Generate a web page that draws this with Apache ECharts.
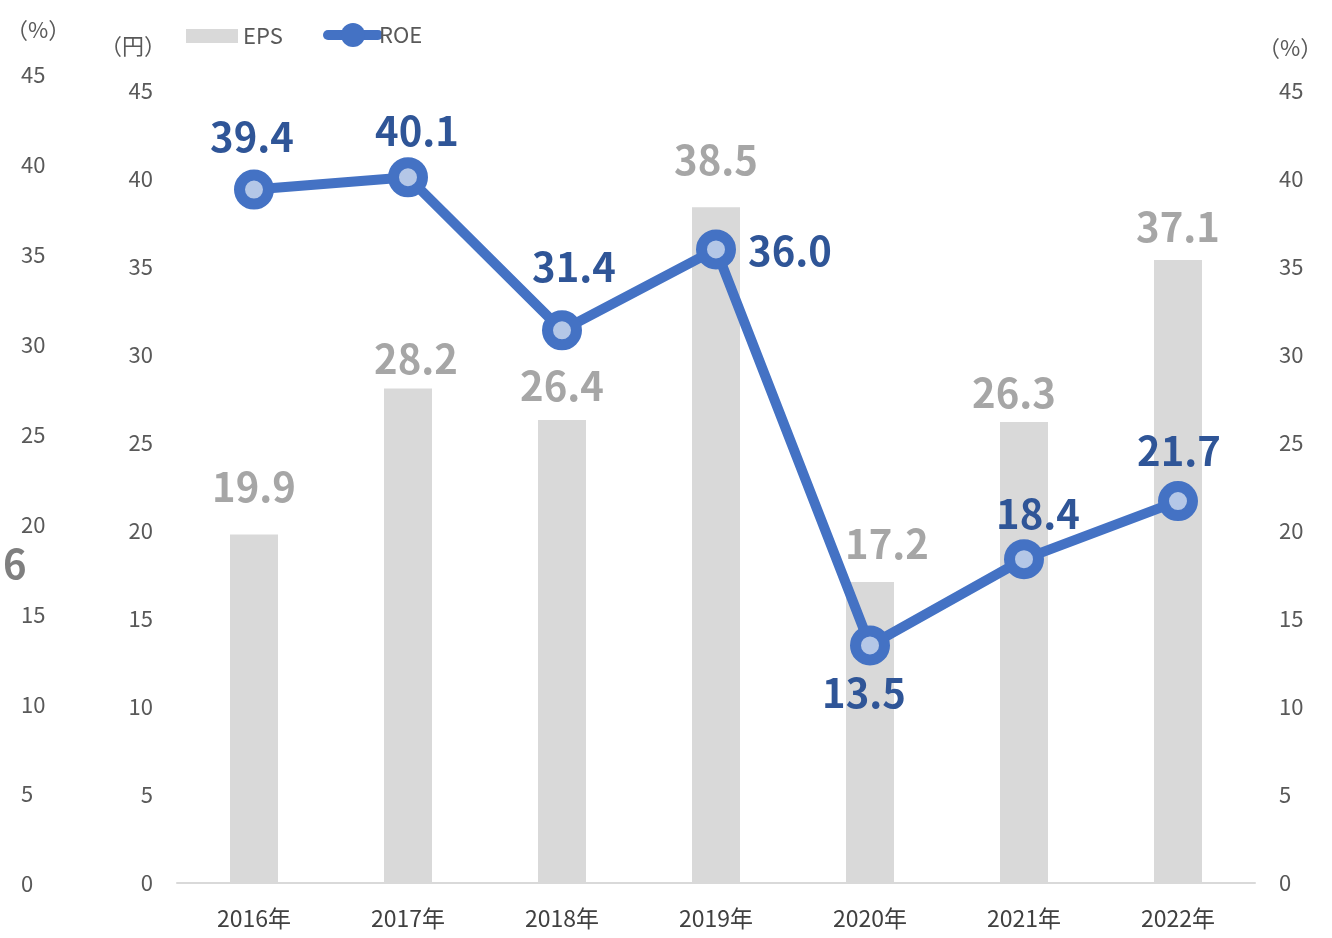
<!DOCTYPE html>
<html lang="ja">
<head>
    <meta charset="UTF-8">
    <title>EPS / ROE</title>
    <script src="https://cdn.jsdelivr.net/npm/echarts@6/dist/echarts.min.js"></script>
    <style>
        html, body { margin: 0; padding: 0; background: #fff; }
        #main { width: 1332px; height: 938px; }
    </style>
</head>
<body>
<div id="main"></div>
<script>
    // 年度
    const years = ['2016年', '2017年', '2018年', '2019年', '2020年', '2021年', '2022年'];
    // EPS（円）棒の高さ と 表示ラベル
    const epsBars = [19.8, 28.1, 26.3, 38.4, 17.1, 26.2, 35.4];
    const epsLabels = ['19.9', '28.2', '26.4', '38.5', '17.2', '26.3', '37.1'];
    // ROE（%）
    const roe = [39.4, 40.1, 31.4, 36.0, 13.5, 18.4, 21.7];
    const roeLabels = ['39.4', '40.1', '31.4', '36.0', '13.5', '18.4', '21.7'];

    // ラベル位置の微調整
    const epsLabelOffset = [[0, -28], [8, -10], [0, -14], [0, -27], [17, -18], [-10, -9], [0, -13]];
    const roeLabelOffset = [[-2, -53], [9, -46], [12, -64], [74, 1], [-6, 47], [14, -45], [1, -50]];

    const FONT = '"Noto Sans CJK JP", "Noto Sans", sans-serif';
    const tickStyle = { color: '#595959', fontSize: 22, fontFamily: FONT };
    const legendText = { color: '#595959', fontSize: 22, fontFamily: FONT };

    const chart = echarts.init(document.getElementById('main'));

    const option = {
        animation: false,
        textStyle: { fontFamily: FONT },
        legend: [
            {
                left: 186,
                top: 25,
                padding: 0,
                itemWidth: 52,
                itemHeight: 14,
                itemGap: 0,
                textStyle: legendText,
                data: [{ name: 'EPS', icon: 'rect', itemStyle: { color: '#D9D9D9' } }]
            },
            {
                left: 323,
                top: 23,
                padding: 0,
                itemWidth: 50,
                itemHeight: 30,
                textStyle: Object.assign({ padding: [0, 0, 0, -4] }, legendText),
                data: [{
                    name: 'ROE',
                    itemStyle: { color: '#4472C4', borderColor: '#4472C4', borderWidth: 0 },
                    lineStyle: { color: '#4472C4', width: 10, cap: 'round' }
                }]
            }
        ],
        grid: [
            { left: 177, right: 77, top: 91, bottom: 55, containLabel: false },
            { left: 60, right: 77, top: 75, bottom: 54, containLabel: false }
        ],
        xAxis: [
            {
                type: 'category',
                gridIndex: 0,
                data: years,
                axisTick: { show: false },
                axisLine: { lineStyle: { color: '#D9D9D9', width: 2 } },
                axisLabel: { color: '#404040', fontSize: 23, fontFamily: FONT, margin: 24 }
            },
            { type: 'category', gridIndex: 1, data: years, show: false }
        ],
        yAxis: [
            {
                type: 'value', gridIndex: 0, position: 'left',
                min: 0, max: 45, interval: 5,
                splitLine: { show: false },
                axisLine: { show: false }, axisTick: { show: false },
                axisLabel: Object.assign({ margin: 24 }, tickStyle)
            },
            {
                type: 'value', gridIndex: 0, position: 'right',
                min: 0, max: 45, interval: 5,
                splitLine: { show: false },
                axisLine: { show: false }, axisTick: { show: false },
                axisLabel: Object.assign({ margin: 24 }, tickStyle)
            },
            {
                type: 'value', gridIndex: 1, position: 'left',
                min: 0, max: 45, interval: 5,
                splitLine: { show: false },
                axisLine: { show: false }, axisTick: { show: false },
                axisLabel: Object.assign({ margin: 39, align: 'left' }, tickStyle)
            }
        ],
        graphic: [
            { type: 'text', left: 6, top: 19, style: { text: '（%）', font: '22px ' + FONT, fill: '#595959' } },
            { type: 'text', left: 100, top: 35, style: { text: '（円）', font: '22px ' + FONT, fill: '#595959' } },
            { type: 'text', left: 1258, top: 37, style: { text: '（%）', font: '22px ' + FONT, fill: '#595959' } },
            { type: 'text', left: 3, top: 544, style: { text: '6', font: 'bold 40px ' + FONT, fill: '#7F7F7F' } }
        ],
        series: [
            {
                name: 'EPS',
                type: 'bar',
                xAxisIndex: 0,
                yAxisIndex: 0,
                barWidth: 48,
                itemStyle: { color: '#D9D9D9' },
                data: epsBars.map((v, i) => ({
                    value: v,
                    label: {
                        show: true,
                        position: 'top',
                        distance: 0,
                        offset: epsLabelOffset[i],
                        formatter: epsLabels[i],
                        color: '#A6A6A6',
                        fontSize: 40,
                        fontWeight: 'bold',
                        fontFamily: FONT
                    }
                }))
            },
            {
                name: 'ROE',
                type: 'line',
                xAxisIndex: 0,
                yAxisIndex: 1,
                symbol: 'circle',
                symbolSize: 29,
                z: 5,
                lineStyle: { color: '#4472C4', width: 10 },
                itemStyle: { color: '#B4C7E7', borderColor: '#4472C4', borderWidth: 11 },
                data: roe.map((v, i) => ({
                    value: v,
                    label: {
                        show: true,
                        position: 'inside',
                        offset: roeLabelOffset[i],
                        formatter: roeLabels[i],
                        color: '#2F5597',
                        fontSize: 40,
                        fontWeight: 'bold',
                        fontFamily: FONT
                    }
                }))
            }
        ]
    };

    chart.setOption(option);
</script>
</body>
</html>
